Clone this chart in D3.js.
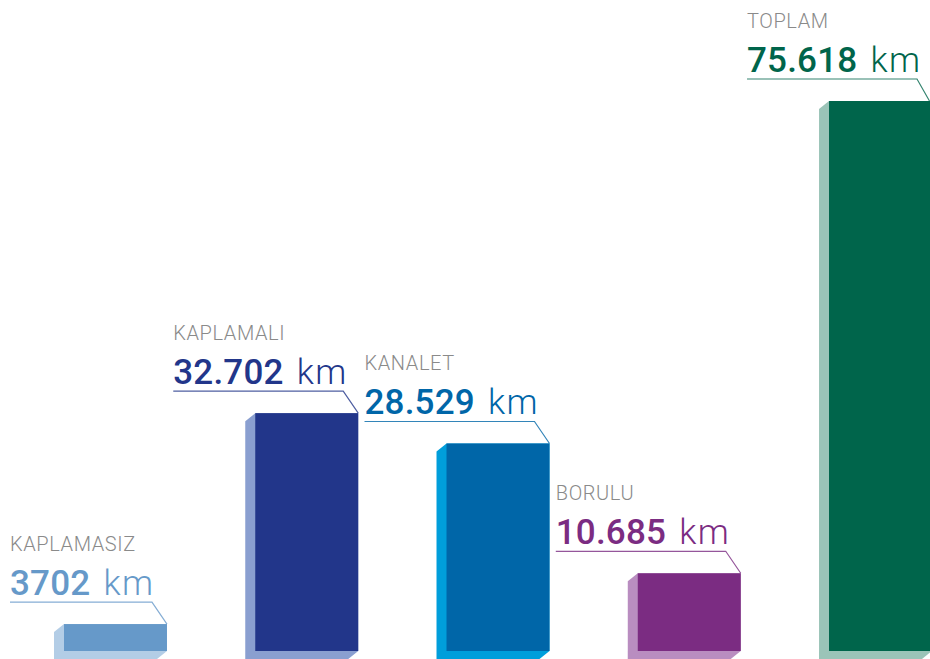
<!DOCTYPE html>
<html>
<head>
<meta charset="utf-8">
<script src="https://cdn.jsdelivr.net/npm/d3@7"></script>
<style>
  html, body { margin: 0; padding: 0; background: #fff; }
  svg { display: block; font-family: Roboto, "Open Sans", sans-serif; }
</style>
</head>
<body>
<div id="chart"></div>
<script>
// data
var categories = ["KAPLAMASIZ", "KAPLAMALI", "KANALET", "BORULU", "TOPLAM"];
var values     = [3702, 32702, 28529, 10685, 75618];
var valueLabels = ["3702", "32.702", "28.529", "10.685", "75.618"];
var frontColors = ["#6699c9", "#22368a", "#0066a8", "#7b2c82", "#00654b"];
var sideColors  = ["#b3cde6", "#8a9fd0", "#009edb", "#b98dc0", "#9bc4b8"];

var width = 930, height = 659;
var base = 651;      // bottom of the front faces
var depthX = 10, depthY = 8;

var svg = d3.select("#chart")
    .append("svg")
        .attr("width", width)
        .attr("height", height);

// x scale: bars 103px wide, 191px apart
var x = d3.scaleBand()
    .domain(categories)
    .range([64, 932])
    .paddingInner(0.4616)
    .paddingOuter(0);

var y = d3.scaleLinear()
    .domain([0, 75618])
    .range([base, 101]);

var data = categories.map(function(c, i) {
    return { name: c, value: values[i], label: valueLabels[i], front: frontColors[i], side: sideColors[i] };
});

var g = svg.selectAll("g.bar")
    .data(data)
    .enter()
    .append("g")
        .attr("class", "bar");

// side / bottom face (the extruded part)
g.append("polygon")
    .attr("points", function(d) {
        var x0 = x(d.name), x1 = x0 + x.bandwidth(), t = y(d.value);
        return [
            [x0, t], [x1, t], [x1, base], [x1 - depthX, base + depthY],
            [x0 - depthX, base + depthY], [x0 - depthX, t + depthY]
        ].join(" ");
    })
    .style("fill", function(d) { return d.side; });

// front face
g.append("rect")
    .attr("x", function(d) { return x(d.name); })
    .attr("y", function(d) { return y(d.value); })
    .attr("width", x.bandwidth())
    .attr("height", function(d) { return base - y(d.value); })
    .style("fill", function(d) { return d.front; });

function textX(d) { return Math.max(10, x(d.name) - 82); }

// category name
g.append("text")
    .attr("x", textX)
    .attr("y", function(d) { return y(d.value) - 73; })
    .style("font-size", "20px")
    .style("font-weight", 300)
    .style("letter-spacing", "0.6px")
    .style("fill", "#8a8a8a")
    .text(function(d) { return d.name; });

// value + unit
var vt = g.append("text")
    .attr("x", textX)
    .attr("y", function(d) { return y(d.value) - 29; })
    .style("font-size", "35px")
    .style("fill", function(d) { return d.front; });
vt.append("tspan")
    .style("font-weight", 500)
    .style("letter-spacing", "0.2px")
    .text(function(d) { return d.label; });
vt.append("tspan")
    .attr("dx", 3)
    .style("font-weight", 300)
    .style("letter-spacing", "1.5px")
    .text(" km");

// leader line: underline then down to the bar corner
g.append("polyline")
    .attr("points", function(d) {
        var x1 = x(d.name) + x.bandwidth(), t = y(d.value);
        return [[textX(d), t - 22], [x1 - 15, t - 22], [Math.min(x1, 929.5), t]].join(" ");
    })
    .style("fill", "none")
    .style("stroke", function(d) { return d.front; })
    .style("stroke-opacity", 0.8)
    .style("stroke-width", 1.2);
</script>
</body>
</html>
